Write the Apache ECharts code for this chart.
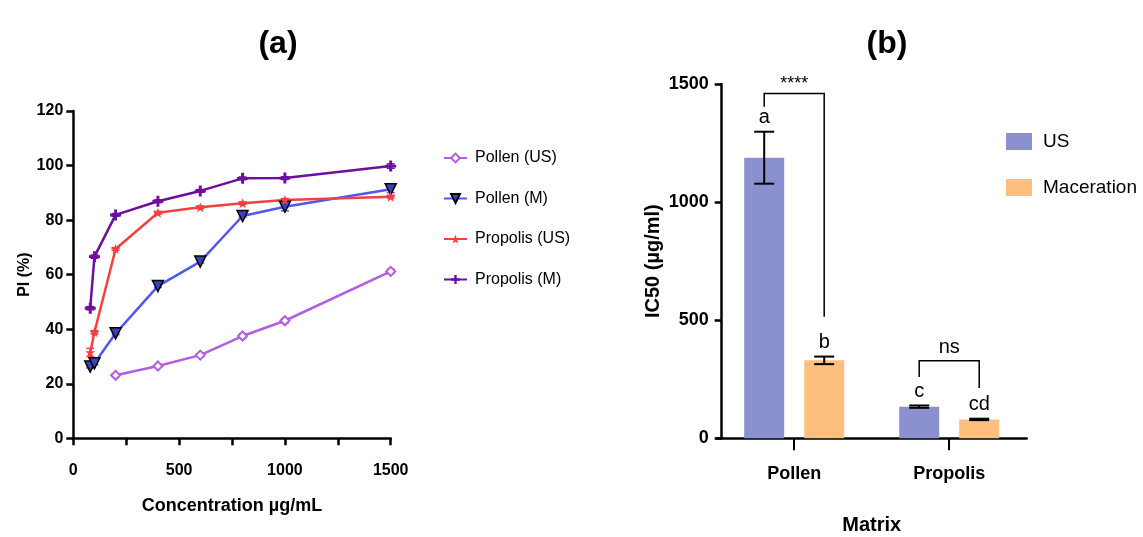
<!DOCTYPE html>
<html><head><meta charset="utf-8">
<script src="https://cdn.jsdelivr.net/npm/echarts@6/dist/echarts.min.js"></script>
<style>html,body{margin:0;padding:0;background:#fff}#c{width:1143px;height:537px}</style>
</head><body><div id="c"></div>
<script>
// ---- Panel (a) data ----
const concentrations = [80, 100, 200, 400, 600, 800, 1000, 1500];
const pollenUS    = [null, null, 23.1, 26.5, 30.5, 37.5, 43.1, 61.2];
const pollenM     = [26.3, 27.5, 38.5, 55.8, 64.8, 81.5, 84.9, 91.3];
const propolisUS  = [31.5, 38.9, 69.4, 82.7, 84.7, 86.2, 87.4, 88.6];
const propolisM   = [47.7, 66.6, 81.9, 86.9, 90.7, 95.3, 95.4, 99.8];
const pollenUSErr   = [null, null, 0.5, 0.5, 0.5, 0.8, 0.8, 0.8];
const pollenMErr    = [0.5, 0.5, 0.5, 0.5, 0.5, 0.5, 1.5, 1.2];
const propolisUSErr = [1.5, 0.6, 0.5, 0.5, 0.5, 0.5, 0.5, 0.5];
const propolisMErr  = [0.6, 0.6, 0.5, 0.5, 0.5, 0.5, 0.5, 0.8];
const lineNames = ['Pollen (US)', 'Pollen (M)', 'Propolis (US)', 'Propolis (M)'];

// ---- Panel (b) data ----
const categories = ['Pollen', 'Propolis'];
const barNames = ['US', 'Maceration'];
const usValues  = [1188, 134];
const usErr     = [110, 5];
const macValues = [330, 80];
const macErr    = [16, 3];
const usLetters  = ['a', 'c'];
const macLetters = ['b', 'cd'];
const bracketCats     = [0, 1];
const bracketTop      = [1460, 328];
const bracketLeftEnd  = [1404, 260];
const bracketRightEnd = [515, 213];
const bracketText     = ['****', 'ns'];

const FONT = 'Liberation Sans, Arial, sans-serif';
const BAR_W = 40, BAR_GAP = 20;
const BAR_OFF = (BAR_W + BAR_GAP) / 2;

function pairs(vals) {
  const out = [];
  concentrations.forEach((c, i) => { if (vals[i] != null) out.push([c, vals[i]]); });
  return out;
}
function errSeries(vals, errs, color) {
  const data = [];
  concentrations.forEach((c, i) => {
    if (vals[i] != null && errs[i]) data.push([c, vals[i] - errs[i], vals[i] + errs[i]]);
  });
  return {
    type: 'custom', xAxisIndex: 0, yAxisIndex: 0, silent: true, z: 1, data,
    renderItem: (params, api) => {
      const lo = api.coord([api.value(0), api.value(1)]);
      const hi = api.coord([api.value(0), api.value(2)]);
      const w = 4, st = { stroke: color, lineWidth: 1.5 };
      return { type: 'group', children: [
        { type: 'line', shape: { x1: lo[0], y1: lo[1], x2: hi[0], y2: hi[1] }, style: st },
        { type: 'line', shape: { x1: lo[0] - w, y1: lo[1], x2: lo[0] + w, y2: lo[1] }, style: st },
        { type: 'line', shape: { x1: hi[0] - w, y1: hi[1], x2: hi[0] + w, y2: hi[1] }, style: st }
      ]};
    }
  };
}
function barErrSeries(vals, errs, letters, sign) {
  return {
    type: 'custom', xAxisIndex: 1, yAxisIndex: 1, silent: true, z: 5,
    data: categories.map((c, i) => [i, vals[i]]),
    renderItem: (params, api) => {
      const i = params.dataIndex;
      const x = api.coord([i, vals[i]])[0] + sign * BAR_OFF;
      const top = api.coord([i, vals[i] + errs[i]])[1];
      const bot = api.coord([i, vals[i] - errs[i]])[1];
      const w = 10, st = { stroke: '#000', lineWidth: 2 };
      return { type: 'group', children: [
        { type: 'line', shape: { x1: x, y1: top, x2: x, y2: bot }, style: st },
        { type: 'line', shape: { x1: x - w, y1: top, x2: x + w, y2: top }, style: st },
        { type: 'line', shape: { x1: x - w, y1: bot, x2: x + w, y2: bot }, style: st },
        { type: 'text', x: x, y: top - 4, style: { text: letters[i], fill: '#000', font: '20px ' + FONT, textAlign: 'center', textVerticalAlign: 'bottom' } }
      ]};
    }
  };
}
const bracketSeries = {
  type: 'custom', xAxisIndex: 1, yAxisIndex: 1, silent: true, z: 6,
  data: bracketCats.map((c, i) => [c, bracketTop[i]]),
  renderItem: (params, api) => {
    const i = params.dataIndex, c = bracketCats[i];
    const cx = api.coord([c, bracketTop[i]])[0];
    const ty = api.coord([c, bracketTop[i]])[1];
    const ly = api.coord([c, bracketLeftEnd[i]])[1];
    const ry = api.coord([c, bracketRightEnd[i]])[1];
    const lx = cx - BAR_OFF, rx = cx + BAR_OFF;
    const isStar = bracketText[i] === '****';
    return { type: 'group', children: [
      { type: 'polyline', shape: { points: [[lx, ly], [lx, ty], [rx, ty], [rx, ry]] }, style: { stroke: '#000', lineWidth: 1.5, fill: null } },
      { type: 'text', x: cx, y: ty - (isStar ? 0 : 3), style: { text: bracketText[i], fill: '#000', font: (isStar ? '18px ' : '20px ') + FONT, textAlign: 'center', textVerticalAlign: 'bottom' } }
    ]};
  }
};

const axisLine = { show: true, lineStyle: { color: '#000', width: 2.5 } };
const axisTick = { show: true, length: 7, lineStyle: { color: '#000', width: 2.5 } };
const boldLbl = { color: '#000', fontWeight: 'bold', fontFamily: FONT };

const option = {
  animation: false,
  backgroundColor: '#fff',
  textStyle: { fontFamily: FONT },
  title: [
    { text: '(a)', left: 273, top: 23, textAlign: 'center', textStyle: { fontSize: 32, fontWeight: 'bold', color: '#000', fontFamily: FONT } },
    { text: '(b)', left: 882, top: 23, textAlign: 'center', textStyle: { fontSize: 32, fontWeight: 'bold', color: '#000', fontFamily: FONT } }
  ],
  legend: [
    { data: lineNames, orient: 'vertical', left: 438, top: 145, itemWidth: 23, itemHeight: 11, itemGap: 24.5,
      textStyle: { fontSize: 16, color: '#000', fontFamily: FONT, padding: [0, 0, 0, 3] } },
    { data: barNames, orient: 'vertical', left: 1001, top: 127, itemWidth: 26, itemHeight: 17, itemGap: 27, icon: 'rect',
      textStyle: { fontSize: 19, color: '#000', fontFamily: FONT, padding: [0, 0, 0, 6] } }
  ],
  grid: [
    { left: 73.3, right: 752.3, top: 111, bottom: 98.7, outerBoundsMode: 'none' },
    { left: 716.7, right: 116.3, top: 84, bottom: 98.7, outerBoundsMode: 'none' }
  ],
  xAxis: [
    { gridIndex: 0, type: 'value', min: 0, max: 1500, interval: 250, axisLine, axisTick, splitLine: { show: false },
      axisLabel: { ...boldLbl, fontSize: 16, margin: 24, formatter: v => (v % 500 === 0 ? String(v) : '') },
      name: 'Concentration µg/mL', nameLocation: 'middle', nameGap: 59,
      nameTextStyle: { ...boldLbl, fontSize: 18 } },
    { gridIndex: 1, type: 'category', data: categories, axisLine,
      axisTick: { show: true, alignWithLabel: true, length: 12, lineStyle: { color: '#000', width: 2 } },
      axisLabel: { ...boldLbl, fontSize: 18, margin: 27 },
      name: 'Matrix', nameLocation: 'middle', nameGap: 77,
      nameTextStyle: { ...boldLbl, fontSize: 20 } }
  ],
  yAxis: [
    { gridIndex: 0, type: 'value', min: 0, max: 120, interval: 20, axisLine, axisTick, splitLine: { show: false },
      axisLabel: { ...boldLbl, fontSize: 16, margin: 10 },
      name: 'PI (%)', nameLocation: 'middle', nameGap: 41, nameRotate: 90,
      nameTextStyle: { ...boldLbl, fontSize: 16 } },
    { gridIndex: 1, type: 'value', min: 0, max: 1500, interval: 500, offset: -5, axisLine, axisTick, splitLine: { show: false },
      axisLabel: { ...boldLbl, fontSize: 18, margin: 13, formatter: v => String(v) },
      name: 'IC50 (µg/ml)', nameLocation: 'middle', nameGap: 58, nameRotate: 90,
      nameTextStyle: { ...boldLbl, fontSize: 20 } }
  ],
  series: [
    { name: 'Pollen (US)', type: 'line', xAxisIndex: 0, yAxisIndex: 0, data: pairs(pollenUS), z: 3,
      symbol: 'emptyDiamond', symbolSize: 9, lineStyle: { color: '#b35ee0', width: 2.5 },
      itemStyle: { color: '#b35ee0', borderWidth: 1.5 } },
    { name: 'Pollen (M)', type: 'line', xAxisIndex: 0, yAxisIndex: 0, data: pairs(pollenM), z: 3,
      symbol: 'triangle', symbolRotate: 180, symbolSize: 11, lineStyle: { color: '#5058f0', width: 2.5 },
      itemStyle: { color: '#3a42b8', borderColor: '#000', borderWidth: 1.5 } },
    { name: 'Propolis (US)', type: 'line', xAxisIndex: 0, yAxisIndex: 0, data: pairs(propolisUS), z: 3,
      symbol: 'path://M0,-10 L2.4,-3.2 L9.5,-3.1 L3.8,1.2 L5.9,8.1 L0,4 L-5.9,8.1 L-3.8,1.2 L-9.5,-3.1 L-2.4,-3.2 Z',
      symbolSize: 10, lineStyle: { color: '#f2403f', width: 2.5 }, itemStyle: { color: '#f2403f' } },
    { name: 'Propolis (M)', type: 'line', xAxisIndex: 0, yAxisIndex: 0, data: pairs(propolisM), z: 3,
      symbol: 'path://M-1.6,-6 H1.6 V-1.6 H6 V1.6 H1.6 V6 H-1.6 V1.6 H-6 V-1.6 H-1.6 Z',
      symbolSize: 11, lineStyle: { color: '#6b0f9c', width: 2.5 }, itemStyle: { color: '#6b0f9c' } },
    errSeries(pollenUS, pollenUSErr, '#b35ee0'),
    errSeries(pollenM, pollenMErr, '#5058f0'),
    errSeries(propolisUS, propolisUSErr, '#f2403f'),
    errSeries(propolisM, propolisMErr, '#6b0f9c'),
    { name: 'US', type: 'bar', xAxisIndex: 1, yAxisIndex: 1, data: usValues, barWidth: BAR_W, barGap: '50%',
      itemStyle: { color: '#8b90cf' } },
    { name: 'Maceration', type: 'bar', xAxisIndex: 1, yAxisIndex: 1, data: macValues, barWidth: BAR_W, barGap: '50%',
      itemStyle: { color: '#fdbe7e' } },
    barErrSeries(usValues, usErr, usLetters, -1),
    barErrSeries(macValues, macErr, macLetters, 1),
    bracketSeries
  ]
};
const chart = echarts.init(document.getElementById('c'), null, { renderer: 'canvas' });
chart.setOption(option);
</script>
</body></html>
